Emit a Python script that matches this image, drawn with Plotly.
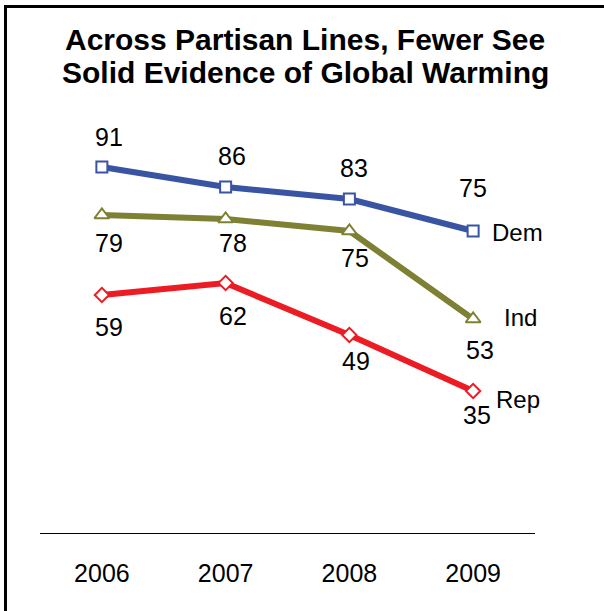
import plotly.graph_objects as go

years = ["2006", "2007", "2008", "2009"]
dem = [91, 86, 83, 75]
ind = [79, 78, 75, 53]
rep = [59, 62, 49, 35]
series_names = ["Dem", "Ind", "Rep"]
title_lines = ["Across Partisan Lines, Fewer See", "Solid Evidence of Global Warming"]

colors = {"Dem": "#3A54A4", "Ind": "#7E8034", "Rep": "#EC1C24"}
symbols = {"Dem": "square", "Ind": "triangle-up", "Rep": "diamond"}
msize = {"Dem": 11, "Ind": 13, "Rep": 11}
label_off = {
    "Dem": [(7, 30), (6, 31), (5, 31), (0, 43)],
    "Ind": [(7, -28), (7, -24), (6, -27), (7, -31)],
    "Rep": [(7, -32), (7, -33), (7, -26), (4, -24)],
}
name_off = {"Dem": (44, -1), "Ind": (47, 2), "Rep": (45, -8)}

FONT = "Arial"
fig = go.Figure()
data = {"Dem": dem, "Ind": ind, "Rep": rep}
for name in series_names:
    vals = data[name]
    fig.add_trace(go.Scatter(
        x=years, y=vals, mode="lines+markers", name=name,
        line=dict(color=colors[name], width=6),
        marker=dict(symbol=symbols[name], size=msize[name], color="white",
                    line=dict(color=colors[name], width=2)),
        showlegend=False, cliponaxis=False,
    ))

for name in series_names:
    vals = data[name]
    for i, (yr, v) in enumerate(zip(years, vals)):
        dx, dy = label_off[name][i]
        fig.add_annotation(x=i, y=v, text=str(v),
                           showarrow=False, xshift=dx, yshift=dy,
                           font=dict(family=FONT, size=25, color="black"))
    dx, dy = name_off[name]
    fig.add_annotation(x=len(years) - 1, y=vals[-1], text=name,
                       showarrow=False, xshift=dx, yshift=dy,
                       font=dict(family=FONT, size=24, color="black"))

L, R, T, B = 40, 69, 131, 78
W, H = 604, 611
pw, ph = W - L - R, H - T - B
def px(x):
    return (x - L) / pw
def py(y):
    return (H - B - y) / ph

# title lines (pixel centres 40 and 72)
for line, yc in zip(title_lines, [40, 72]):
    fig.add_annotation(xref="paper", yref="paper", x=px(305), y=py(yc),
                       xanchor="center", yanchor="middle", showarrow=False,
                       text="<b>" + line + "</b>",
                       font=dict(family=FONT, size=30, color="black"))

fig.add_shape(type="line", xref="paper", yref="paper", x0=px(5.5), x1=px(5.5),
              y0=py(5), y1=py(611), line=dict(color="black", width=3))
fig.add_shape(type="line", xref="paper", yref="paper", x0=px(4), x1=px(604),
              y0=py(6.5), y1=py(6.5), line=dict(color="black", width=3))

fig.update_layout(
    width=W, height=H, margin=dict(l=L, r=R, t=T, b=B),
    paper_bgcolor="white", plot_bgcolor="white",
    xaxis=dict(type="category", range=[-0.5, 3.5], showgrid=False, zeroline=False,
               showline=True, linecolor="black", linewidth=1,
               ticks="outside", ticklen=18, tickcolor="rgba(0,0,0,0)",
               tickfont=dict(family=FONT, size=25, color="black")),
    yaxis=dict(range=[-0.5, 100], showgrid=False, zeroline=False, showline=False,
               showticklabels=False, ticks=""),
)
fig.write_html("out.html")
